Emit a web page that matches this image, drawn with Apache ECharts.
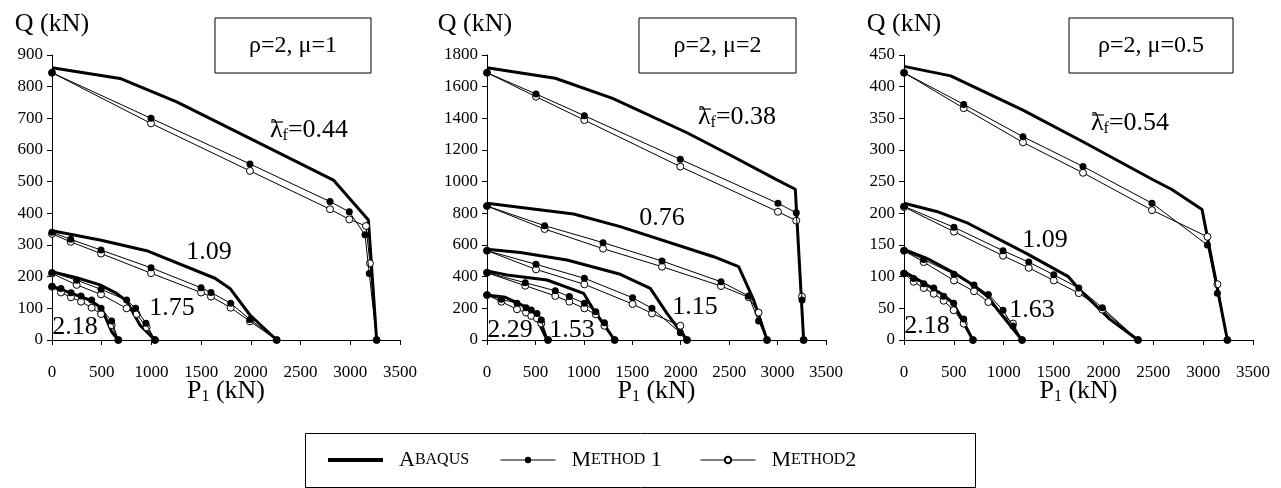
<!DOCTYPE html>
<html>
<head>
<meta charset="utf-8">
<script src="https://cdn.jsdelivr.net/npm/echarts@6/dist/echarts.min.js"></script>
<style>
  html, body { margin: 0; padding: 0; background: #fff; }
  #chart { width: 1281px; height: 488px; }
</style>
</head>
<body>
<div id="chart"></div>
<script>
// Interaction curves Q – P1 for rho=2 and three mu values.
// Each panel: outer curve first, then inner ones (one entry per lambda_f).

// --- rho=2, mu=1 ---
const mu1Abaqus = [
  [[0, 860], [684, 826], [1254, 752], [2025, 631], [2830, 505], [3182, 379], [3265, 0]],
  [[0, 345], [483, 316], [952, 282], [1639, 195], [1790, 163], [1991, 79], [2260, 0]],
  [[0, 216], [265, 195], [483, 174], [650, 147], [751, 123], [885, 47], [1036, 0]],
  [[0, 170], [382, 126], [500, 100], [600, 26], [667, 0]],
];
const mu1Method1 = [
  [[0, 844], [996, 700], [1991, 556], [2796, 437], [2990, 405], [3148, 332], [3191, 210], [3265, 0]],
  [[0, 340], [188, 318], [493, 284], [996, 228], [1499, 165], [1599, 150], [1797, 116], [1991, 65], [2260, 0]],
  [[0, 213], [248, 189], [493, 160], [751, 126], [841, 100], [945, 53], [1036, 0]],
  [[0, 170], [90, 163], [191, 149], [292, 139], [399, 126], [493, 100], [600, 60], [667, 0]],
];
const mu1Method2 = [
  [[0, 844], [996, 684], [1991, 534], [2796, 413], [2990, 381], [3158, 360], [3198, 242], [3265, 0]],
  [[0, 335], [188, 310], [493, 273], [996, 211], [1499, 150], [1599, 137], [1797, 102], [1991, 59], [2260, 0]],
  [[0, 210], [248, 174], [493, 144], [751, 100], [851, 82], [952, 40], [1036, 0]],
  [[0, 168], [90, 150], [191, 135], [292, 121], [399, 102], [493, 82], [600, 47], [667, 0]],
];

// --- rho=2, mu=2 ---
const mu2Abaqus = [
  [[0, 1720], [705, 1653], [1297, 1526], [2065, 1309], [2529, 1162], [2994, 1011], [3183, 952], [3269, 0]],
  [[0, 863], [894, 796], [1376, 716], [2340, 526], [2598, 463], [2753, 253], [2891, 0]],
  [[0, 573], [344, 552], [826, 505], [1376, 415], [1686, 326], [1858, 168], [2065, 0]],
  [[0, 436], [206, 410], [620, 379], [997, 295], [1101, 189], [1318, 0]],
  [[0, 284], [189, 270], [395, 211], [499, 158], [620, 0]],
];
const mu2Method1 = [
  [[0, 1688], [506, 1554], [1005, 1417], [1996, 1141], [3004, 863], [3193, 804], [3252, 253], [3269, 0]],
  [[0, 846], [595, 722], [1198, 615], [1807, 499], [2416, 368], [2701, 278], [2804, 120], [2891, 0]],
  [[0, 564], [506, 478], [1005, 390], [1503, 267], [1703, 200], [1996, 46], [2065, 0]],
  [[0, 425], [395, 362], [705, 311], [850, 274], [1005, 232], [1123, 179], [1212, 109], [1318, 0]],
  [[0, 284], [148, 257], [310, 232], [403, 204], [457, 189], [516, 168], [561, 126], [630, 0]],
];
const mu2Method2 = [
  [[0, 1688], [506, 1537], [1005, 1389], [1996, 1095], [3004, 810], [3193, 754], [3252, 274], [3269, 0]],
  [[0, 846], [595, 701], [1198, 577], [1807, 463], [2416, 341], [2701, 270], [2804, 173], [2891, 0]],
  [[0, 564], [506, 446], [1005, 352], [1503, 227], [1703, 168], [1996, 90], [2065, 0]],
  [[0, 425], [395, 343], [705, 278], [850, 242], [1005, 200], [1123, 162], [1212, 90], [1318, 0]],
  [[0, 284], [148, 242], [310, 194], [403, 173], [457, 152], [516, 137], [561, 105], [630, 0]],
];

// --- rho=2, mu=0.5 ---
const mu05Abaqus = [
  [[0, 432], [468, 417], [1193, 363], [1795, 313], [2497, 253], [2682, 238], [2989, 206], [3243, 0]],
  [[0, 216], [328, 203], [646, 184], [1236, 136], [1648, 100], [1764, 79], [2063, 33], [2347, 0]],
  [[0, 143], [228, 129], [501, 106], [692, 87], [843, 68], [943, 47], [1184, 0]],
  [[0, 108], [178, 92], [395, 71], [495, 58], [562, 37], [692, 0]],
];
const mu05Method1 = [
  [[0, 422], [599, 372], [1193, 321], [1795, 274], [2487, 216], [3043, 150], [3143, 74], [3243, 0]],
  [[0, 211], [501, 178], [993, 141], [1251, 123], [1502, 103], [1753, 82], [1989, 51], [2347, 0]],
  [[0, 141], [197, 127], [501, 104], [702, 87], [846, 72], [993, 47], [1093, 22], [1184, 0]],
  [[0, 105], [97, 97], [198, 89], [298, 82], [398, 69], [498, 58], [599, 33], [692, 0]],
];
const mu05Method2 = [
  [[0, 422], [599, 366], [1193, 312], [1795, 264], [2487, 205], [3043, 163], [3143, 88], [3243, 0]],
  [[0, 210], [501, 171], [993, 133], [1251, 114], [1502, 94], [1753, 74], [1989, 48], [2347, 0]],
  [[0, 141], [197, 123], [501, 94], [702, 77], [846, 60], [1093, 26], [1184, 0]],
  [[0, 105], [97, 92], [198, 82], [298, 73], [398, 62], [498, 47], [599, 26], [692, 0]],
];

const panelTitles = ['ρ=2, μ=1', 'ρ=2, μ=2', 'ρ=2, μ=0.5'];
const yMaxes = [900, 1800, 450];
const ySteps = [100, 200, 50];
const lambdaOuter = ['0.44', '0.38', '0.54'];
const curveLabels = [
  ['1.09', '1.75', '2.18'],
  ['0.76', '1.15', '1.53', '2.29'],
  ['1.09', '1.63', '2.18'],
];

const FONT = '"Liberation Serif", "Times New Roman", serif';

// layout (pixels)
const grids = [
  { left: 52, top: 55, width: 348, height: 285 },
  { left: 487, top: 55, width: 339, height: 285 },
  { left: 904, top: 55, width: 349, height: 285 },
];
const boxes = [
  { x: 215, y: 18, w: 156, h: 55 },
  { x: 639, y: 18, w: 157, h: 55 },
  { x: 1069, y: 18, w: 164, h: 55 },
];
const lambdaPos = [[270, 130], [698, 117], [1091, 123]]; // left edge, middle
const curveLabelPos = [
  [[209, 252], [172, 308], [75, 327]],
  [[662, 218], [695, 307], [572, 330], [510, 330]],
  [[1045, 240], [1032, 310], [927, 326]],
];
const qNamePad = [0, 24, 0];
const legendLefts = [326, 500, 700];

const abaqusSets = [mu1Abaqus, mu2Abaqus, mu05Abaqus];
const m1Sets = [mu1Method1, mu2Method1, mu05Method1];
const m2Sets = [mu1Method2, mu2Method2, mu05Method2];

const chart = echarts.init(document.getElementById('chart'));

const xAxis = grids.map((g, i) => ({
  type: 'value', gridIndex: i, min: 0, max: 3500, interval: 500,
  name: '{p|P}{s|1}{p| (kN)}',
  nameLocation: 'middle', nameGap: 37, nameMoveOverlap: false,
  nameTextStyle: {
    rich: {
      p: { fontFamily: FONT, fontSize: 26, color: '#000' },
      s: { fontFamily: FONT, fontSize: 16, color: '#000', padding: [12, 0, 0, 0] },
    },
  },
  axisLine: { lineStyle: { color: '#000', width: 1 } },
  axisTick: { length: 5, lineStyle: { color: '#000' } },
  axisLabel: { fontFamily: FONT, fontSize: 17, color: '#000', margin: 24, formatter: v => String(v) },
  splitLine: { show: false },
}));

const yAxis = grids.map((g, i) => ({
  type: 'value', gridIndex: i, min: 0, max: yMaxes[i], interval: ySteps[i],
  name: 'Q (kN)', nameLocation: 'end', nameGap: 18,
  nameTextStyle: { fontFamily: FONT, fontSize: 26, color: '#000', padding: [0, qNamePad[i], 0, 0] },
  axisLine: { show: true, lineStyle: { color: '#000', width: 1 } },
  axisTick: { show: true, length: 5, lineStyle: { color: '#000' } },
  axisLabel: { fontFamily: FONT, fontSize: 17, color: '#000', margin: 9, formatter: v => String(v) },
  splitLine: { show: false },
}));

const series = [];
for (let i = 0; i < 3; i++) {
  abaqusSets[i].forEach(d => series.push({
    type: 'line', name: 'Abaqus', xAxisIndex: i, yAxisIndex: i, data: d,
    symbol: 'none', lineStyle: { color: '#000', width: 3 }, itemStyle: { color: '#000' },
    z: 2, silent: true,
  }));
  m2Sets[i].forEach(d => series.push({
    type: 'line', name: 'Method2', xAxisIndex: i, yAxisIndex: i, data: d,
    symbol: 'circle', symbolSize: 7, showAllSymbol: true,
    lineStyle: { color: '#000', width: 1 },
    itemStyle: { color: '#fff', borderColor: '#000', borderWidth: 1 },
    z: 3, silent: true,
  }));
  m1Sets[i].forEach(d => series.push({
    type: 'line', name: 'Method 1', xAxisIndex: i, yAxisIndex: i, data: d,
    symbol: 'circle', symbolSize: 7, showAllSymbol: true,
    lineStyle: { color: '#000', width: 1 },
    itemStyle: { color: '#000' },
    z: 4, silent: true,
  }));
}

const graphic = [];
boxes.forEach((b, i) => {
  graphic.push({
    type: 'rect', shape: { x: b.x, y: b.y, width: b.w, height: b.h },
    style: { fill: 'none', stroke: '#000', lineWidth: 1 },
  });
  graphic.push({
    type: 'text', x: b.x + b.w / 2, y: b.y + b.h / 2,
    style: { text: panelTitles[i], font: '24px ' + FONT, fill: '#000', align: 'center', verticalAlign: 'middle' },
  });
  const [lx, ly] = lambdaPos[i];
  graphic.push({
    type: 'text', x: lx, y: ly,
    style: {
      text: '{a|λ}{s|f}{a|=' + lambdaOuter[i] + '}',
      align: 'left', verticalAlign: 'middle',
      rich: {
        a: { font: '26px ' + FONT, fill: '#000' },
        s: { font: '16px ' + FONT, fill: '#000', padding: [12, 0, 0, 0] },
      },
    },
  });
  // bar over lambda
  graphic.push({
    type: 'line', shape: { x1: lx + 1, y1: ly - 8, x2: lx + 13, y2: ly - 8 },
    style: { stroke: '#000', lineWidth: 1.2 },
  });
  curveLabels[i].forEach((t, j) => graphic.push({
    type: 'text', x: curveLabelPos[i][j][0], y: curveLabelPos[i][j][1],
    style: { text: t, font: '26px ' + FONT, fill: '#000', align: 'center', verticalAlign: 'middle' },
  }));
});
// frame around the legend row
graphic.push({
  type: 'rect', shape: { x: 305.5, y: 433.5, width: 670, height: 54 },
  style: { fill: 'none', stroke: '#000', lineWidth: 1 },
});

const legendText = {
  'Abaqus': '{g|}{b|A}{s|BAQUS}',
  'Method 1': '{g|}{b|M}{s|ETHOD}{b| 1}',
  'Method2': '{g|}{b|M}{s|ETHOD}{b|2}',
};
const legendRich = {
  g: { width: 11 },
  b: { fontFamily: FONT, fontSize: 22, color: '#000' },
  s: { fontFamily: FONT, fontSize: 16, color: '#000' },
};
const legendItems = [
  { name: 'Abaqus', itemStyle: { opacity: 0 }, lineStyle: { width: 4, color: '#000' } },
  { name: 'Method 1', lineStyle: { width: 1, color: '#000' } },
  { name: 'Method2', lineStyle: { width: 1, color: '#000' } },
];

chart.setOption({
  animation: false,
  backgroundColor: '#fff',
  grid: grids.map(g => ({ ...g, containLabel: false })),
  xAxis,
  yAxis,
  series,
  graphic,
  legend: legendItems.map((item, k) => ({
    data: [item],
    left: legendLefts[k], top: 449,
    itemWidth: 55, itemHeight: 8,
    padding: 0,
    selectedMode: false,
    formatter: name => legendText[name],
    textStyle: { rich: legendRich },
  })),
});
</script>
</body>
</html>
